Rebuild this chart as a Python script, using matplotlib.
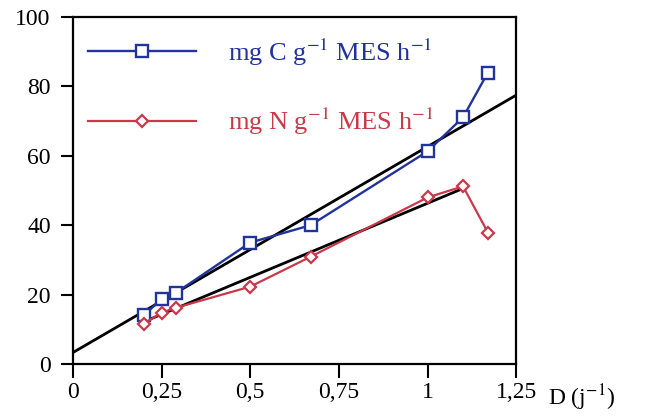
import numpy as np
import matplotlib
matplotlib.use("Agg")
import matplotlib.pyplot as plt

# données
d_c = [0.20, 0.25, 0.29, 0.50, 0.67, 1.00, 1.10, 1.17]
q_c = [14.0, 18.8, 20.5, 35.0, 40.0, 61.3, 71.1, 84.0]
d_n = [0.20, 0.25, 0.29, 0.50, 0.67, 1.00, 1.10, 1.17]
q_n = [11.6, 14.8, 16.2, 22.3, 30.9, 48.0, 51.2, 37.9]

# droites de régression (extrémités lues)
reg_c_x = [0.0, 1.25]
reg_c_y = [3.3, 77.5]
reg_n_x = [0.21, 1.10]
reg_n_y = [12.6, 50.6]

xticks = [0, 0.25, 0.5, 0.75, 1, 1.25]
xticklabels = ['0', '0,25', '0,5', '0,75', '1', '1,25']
yticks = [0, 20, 40, 60, 80, 100]

blue = '#23339c'
red = '#c83a4a'

plt.rcParams['font.family'] = ['Liberation Serif', 'DejaVu Serif']
plt.rcParams['mathtext.fontset'] = 'stix'

fig = plt.figure(figsize=(6.51, 4.16), dpi=100)
ax = fig.add_axes([0.112, 0.125, 0.681, 0.834])

ax.plot(reg_c_x, reg_c_y, color='black', lw=2.0, zorder=2)
ax.plot(reg_n_x, reg_n_y, color='black', lw=2.0, zorder=2)

ax.plot(d_c, q_c, color=blue, lw=1.7, marker='s', ms=9, mfc='white',
        mec=blue, mew=1.7, label='mg C g$^{-1}$ MES h$^{-1}$', zorder=3)
ax.plot(d_n, q_n, color=red, lw=1.6, marker='D', ms=6.5, mfc='white',
        mec=red, mew=1.6, label='mg N g$^{-1}$ MES h$^{-1}$', zorder=3)

ax.set_xlim(0, 1.25)
ax.set_ylim(0, 100)
ax.set_xticks(xticks)
ax.set_xticklabels(xticklabels)
ax.set_yticks(yticks)
ax.tick_params(axis='both', labelsize=17, width=1.5, direction='out')
ax.tick_params(axis='x', length=10, pad=3)
ax.tick_params(axis='y', length=9, pad=7)
for s in ax.spines.values():
    s.set_linewidth(1.6)

ax.annotate('D (j$^{-1}$)', xy=(1.34, 0), xycoords=('data', 'axes fraction'),
            xytext=(0, -13), textcoords='offset points',
            fontsize=17, ha='left', va='top', annotation_clip=False)

leg = ax.legend(loc='upper left', bbox_to_anchor=(0.034, 0.944), frameon=False,
                handlelength=4.1, numpoints=1, labelspacing=1.45,
                handletextpad=1.2, borderpad=0, borderaxespad=0,
                fontsize=19)
for t, c in zip(leg.get_texts(), [blue, red]):
    t.set_color(c)

fig.savefig('out.png', dpi=100)
